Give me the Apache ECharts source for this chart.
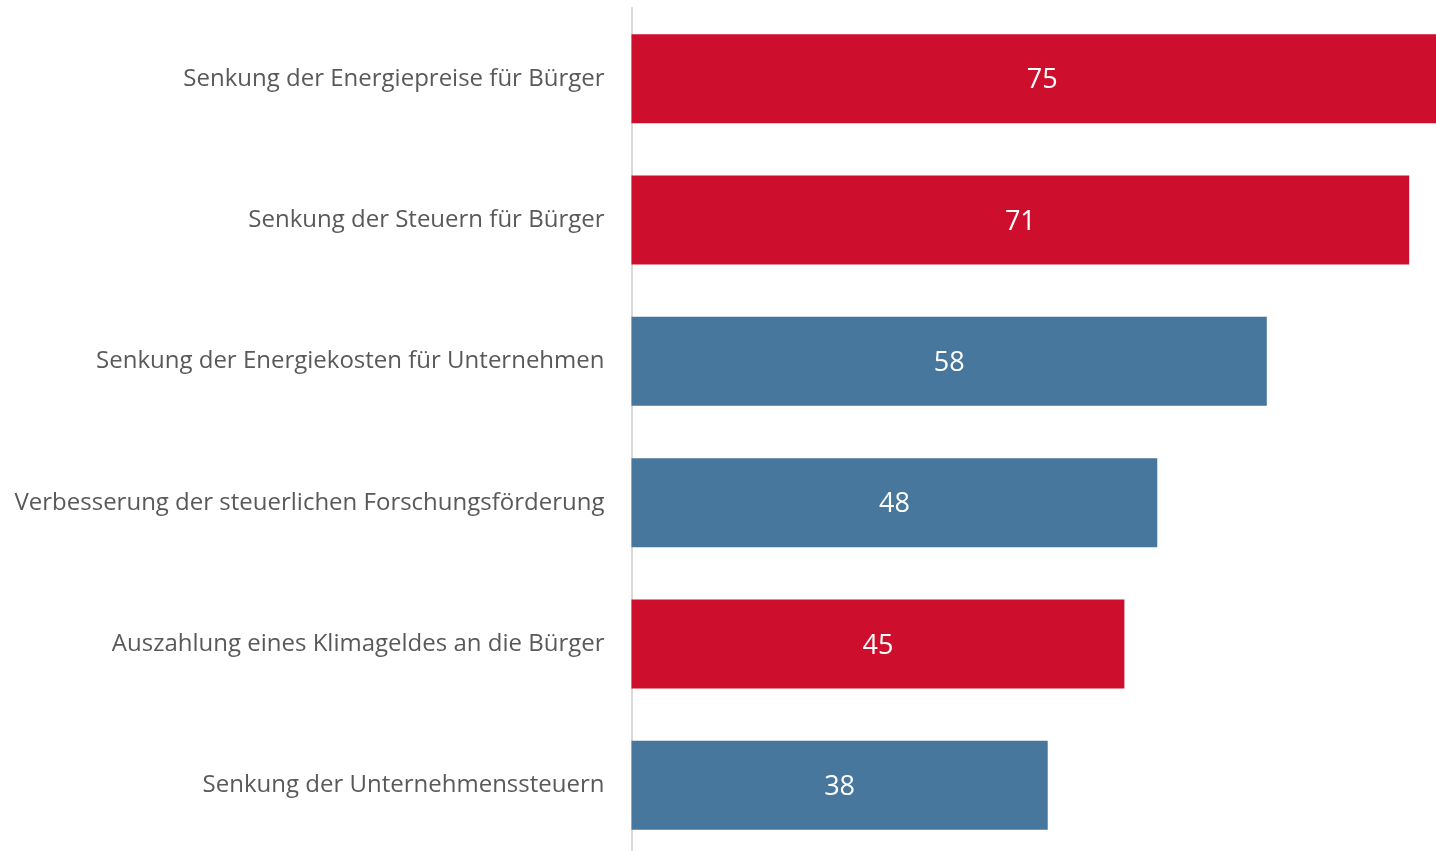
<!DOCTYPE html>
<html>
<head>
<meta charset="utf-8">
<script src="https://cdn.jsdelivr.net/npm/echarts@6/dist/echarts.min.js"></script>
<style>
    html, body { margin: 0; padding: 0; overflow: hidden; background: #fff; }
    #chart { width: 1453px; height: 856px; }
</style>
</head>
<body>
<div id="chart"></div>
<script>
// Kategorien von oben nach unten
var categories = [
    "Senkung der Energiepreise für Bürger",
    "Senkung der Steuern für Bürger",
    "Senkung der Energiekosten für Unternehmen",
    "Verbesserung der steuerlichen Forschungsförderung",
    "Auszahlung eines Klimageldes an die Bürger",
    "Senkung der Unternehmenssteuern"
];
var values = [75, 71, 58, 48, 45, 38];
// Bürger = rot, Unternehmen = blau
var groups = ["buerger", "buerger", "unternehmen", "unternehmen", "buerger", "unternehmen"];
var groupColors = { buerger: "#CE0E2D", unternehmen: "#47779C" };

var chart = echarts.init(document.getElementById("chart"));
var barData = values.map(function (v, i) {
    return { value: v, itemStyle: { color: groupColors[groups[i]] } };
});

chart.setOption({
    animation: false,
    grid: { left: 631.5, right: 0, top: 8, bottom: 0, containLabel: false },
    xAxis: {
        type: "value",
        min: 0,
        max: 75,
        show: false
    },
    yAxis: {
        type: "category",
        inverse: true,
        data: categories,
        axisLine: { show: true, lineStyle: { color: "#D9D9D9", width: 2 } },
        axisTick: { show: false },
        axisLabel: {
            margin: 27,
            color: "#595959",
            fontFamily: "Open Sans",
            fontSize: 24
        }
    },
    series: [{
        type: "bar",
        data: barData,
        barWidth: 89,
        label: {
            show: true,
            position: "inside",
            offset: [0, 2],
            color: "#fff",
            fontFamily: "Open Sans",
            fontSize: 27
        }
    }]
});
</script>
</body>
</html>
